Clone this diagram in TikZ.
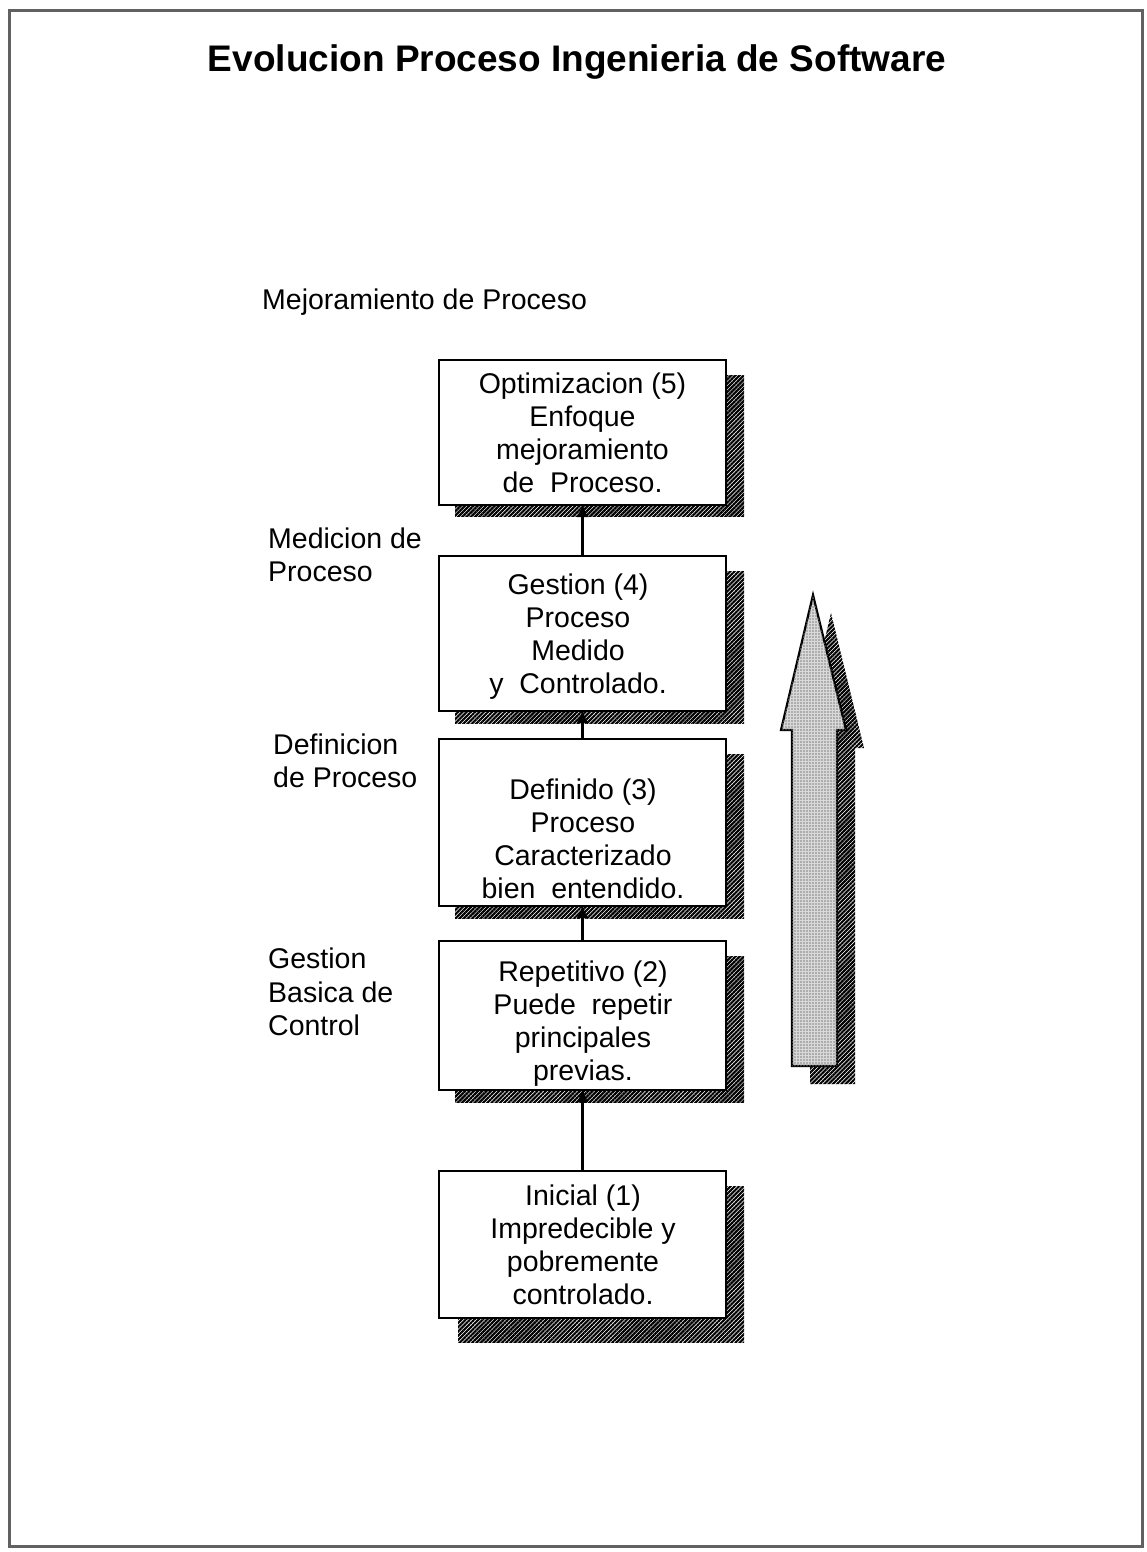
\documentclass[tikz,border=0pt]{standalone}
\usepackage{fontspec}
\setmainfont{Liberation Sans}
\usetikzlibrary{arrows.meta,patterns.meta}

\tikzset{
  x=1pt, y=-1pt,
  frame/.style={draw=black!62, line width=3pt},
  stagebox/.style={draw=black, line width=2.4pt, fill=white, inner sep=0pt},
  boxshadow/.style={pattern={Lines[angle=45,distance=3pt,line width=2.2pt]}, pattern color=black},
  stagetext/.style={align=center, inner sep=0pt, font=\fontsize{28.5}{33}\selectfont},
  sidelabel/.style={align=left, anchor=west, inner sep=0pt, font=\fontsize{28.5}{33.5}\selectfont},
  conn/.style={line width=2.2pt, -{Latex[length=13pt,width=12pt]}, shorten >=-1pt},
  bigarrow/.style={draw=black, line width=2.2pt, fill=black!15, line join=miter,
    postaction={pattern={Dots[distance=3pt,radius=0.8pt]}, pattern color=black!50}},
}

\begin{document}
\begin{tikzpicture}
\useasboundingbox (0,0) rectangle (1146,1552);
\fill[white] (0,0) rectangle (1146,1552);
\draw[frame] (9,11) rectangle (1142,1546);

% title
\node[font=\bfseries\fontsize{37}{40}\selectfont, inner sep=0pt] (title) at (577,62) {Evolucion Proceso Ingenieria de Software};

% stage boxes (placed first so the shadows can use their anchors)
\node[stagebox, minimum width=285, minimum height=143] (b5) at (582.5,432.5) {};
\node[stagebox, minimum width=285, minimum height=153] (b4) at (582.5,633.5) {};
\node[stagebox, minimum width=285, minimum height=165] (b3) at (582.5,822.5) {};
\node[stagebox, minimum width=285, minimum height=147] (b2) at (582.5,1015.5) {};
\node[stagebox, minimum width=285, minimum height=145] (b1) at (582.5,1244.5) {};

% drop shadows behind the boxes
\fill[boxshadow] ([shift={(-271,16)}]b5.north east) rectangle ([shift={(18,11)}]b5.south east);
\fill[boxshadow] ([shift={(-271,16)}]b4.north east) rectangle ([shift={(18,12)}]b4.south east);
\fill[boxshadow] ([shift={(-271,16)}]b3.north east) rectangle ([shift={(18,12)}]b3.south east);
\fill[boxshadow] ([shift={(-271,16)}]b2.north east) rectangle ([shift={(18,12)}]b2.south east);
\fill[boxshadow] ([shift={(-268,16)}]b1.north east) rectangle ([shift={(18,24)}]b1.south east);

% boxes again on top of their shadows
\foreach \b in {b1,b2,b3,b4,b5}
  \draw[stagebox] (\b.north west) rectangle (\b.south east);

% box texts
\node[stagetext] (t5) at (582.5,433) {Optimizacion (5)\\Enfoque\\mejoramiento\\de\ \ Proceso.};
\node[stagetext] (t4) at (578,637) {Gestion (4)\\Proceso\\Medido\\y\ \ Controlado.};
\node[stagetext] (t3) at (583,839) {Definido (3)\\Proceso\\Caracterizado\\bien\ \ entendido.};
\node[stagetext] (t2) at (583,1024) {Repetitivo (2)\\Puede\ \ repetir\\principales\\previas.};
\node[stagetext] (t1) at (583,1245) {Inicial (1)\\Impredecible y\\pobremente\\controlado.};

% connectors between stages
\draw[conn] (b1.north) -- (b2.south);
\draw[conn] (b2.north) -- (b3.south);
\draw[conn] (b3.north) -- (b4.south);
\draw[conn] (b4.north) -- (b5.south);

% side labels
\node[sidelabel] (l5) at (262,302) {Mejoramiento de Proceso};
\node[sidelabel] (l4) at (268,555) {Medicion de\\Proceso};
\node[sidelabel] (l3) at (273,761) {Definicion\\de Proceso};
\node[sidelabel] (l2) at (268,992) {Gestion\\Basica de\\Control};

% large upward arrow with its shadow
\fill[boxshadow] (831,613) -- (864,748) -- (855,748) -- (855,1084) -- (810,1084) -- (810,748) -- (799,748) -- cycle;
\draw[bigarrow] (813,595) -- (846,730) -- (837,730) -- (837,1066) -- (792,1066) -- (792,730) -- (781,730) -- cycle;
\end{tikzpicture}
\end{document}
